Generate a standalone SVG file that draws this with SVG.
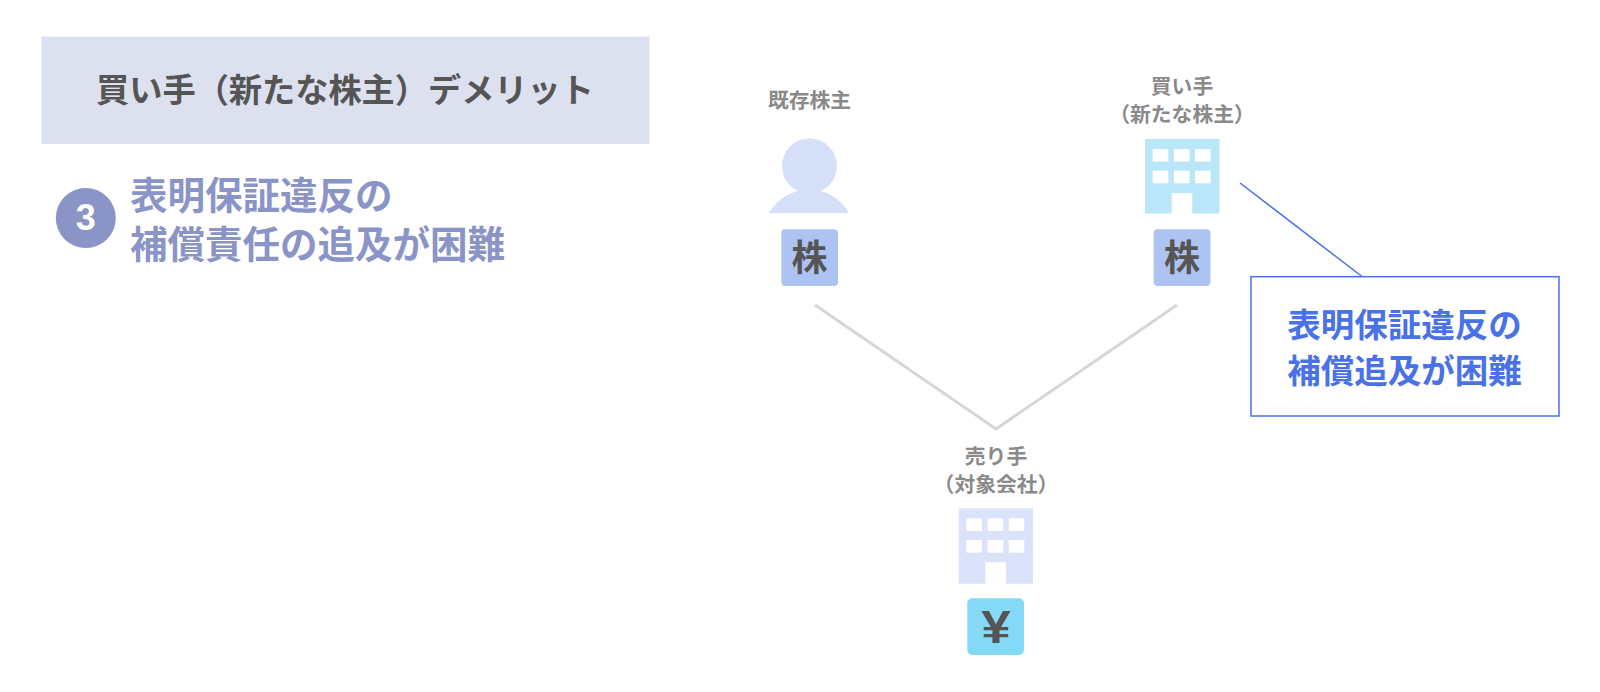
<svg xmlns="http://www.w3.org/2000/svg" width="1600" height="692" viewBox="0 0 1600 692">
<style>
text{font-family:"Noto Sans CJK JP","Noto Sans",sans-serif;font-weight:700;text-anchor:middle}
.lbl{font-size:20.800px;fill:#8a8a8a}
.tok{font-size:36px;fill:#555}
.ttl{font-size:37.500px;fill:#8a94c6;text-anchor:start}
.call{font-size:33.500px;fill:#4a72e8}
.win{fill:#fff}
.stock{fill:#adc3f2}
.conn{fill:none;stroke:#d6d6d6;stroke-width:3}
</style>
<defs>
<g id="bld-holes">
<rect class="win" x="7.7" y="10" width="15.6" height="12.6"/><rect class="win" x="29" y="10" width="15.6" height="12.6"/><rect class="win" x="50" y="10" width="15.6" height="12.6"/>
<rect class="win" x="7.7" y="31.7" width="15.6" height="12.6"/><rect class="win" x="29" y="31.7" width="15.6" height="12.6"/><rect class="win" x="50" y="31.7" width="15.6" height="12.6"/>
<rect class="win" x="26.7" y="54" width="20.6" height="21.5"/>
</g>
</defs>
<rect width="1600" height="692" fill="#fff"/>
<g id="connectors">
<polyline class="conn" points="815,305 996,429 1177,305"/>
<line x1="1240" y1="183" x2="1362" y2="276.5" stroke="#4a72e8" stroke-width="1.5"/>
</g>
<g id="header">
<rect x="41.5" y="36.5" width="608" height="107.5" fill="#dde0ef"/>
<text x="345" y="102" font-size="33.200" fill="#555">買い手（新たな株主）デメリット</text>
</g>
<g id="point-3">
<circle cx="85.800" cy="218" r="30" fill="#8a94c6"/>
<text x="85.800" y="230" font-size="36" fill="#fff" style="font-family:'Liberation Sans',sans-serif">3</text>
<text class="ttl"><tspan x="130" y="209">表明保証違反の</tspan><tspan x="130" y="258">補償責任の追及が困難</tspan></text>
</g>
<g id="existing-shareholder">
<text class="lbl" x="809.500" y="108">既存株主</text>
<circle cx="809.500" cy="166" r="27.500" fill="#d5e0f8"/>
<path d="M769,213 Q782,191 809.500,189 Q836,191 849,213 Z" fill="#d5e0f8"/>
<rect class="stock" x="781.300" y="229.300" width="56.700" height="56.700" rx="4"/>
<text class="tok" x="809.500" y="271">株</text>
</g>
<g id="buyer">
<text class="lbl"><tspan x="1182" y="94">買い手</tspan><tspan x="1182" y="122">（新たな株主）</tspan></text>
<rect x="1145" y="139" width="74.500" height="74.500" fill="#bae6fa"/>
<use href="#bld-holes" x="1145" y="139"/>
<rect class="stock" x="1153.700" y="229.300" width="56.700" height="56.700" rx="4"/>
<text class="tok" x="1182" y="271">株</text>
</g>
<g id="seller">
<text class="lbl"><tspan x="996" y="464">売り手</tspan><tspan x="996" y="492">（対象会社）</tspan></text>
<rect x="958.700" y="508.300" width="74.300" height="75.400" fill="#dae3fa"/>
<use href="#bld-holes" x="958.700" y="508.300"/>
<rect x="967.300" y="598.300" width="56.700" height="56.700" rx="5" fill="#84d9f7"/>
<text x="0" y="643" font-size="46" fill="#555" transform="translate(996 0) scale(1.15 1)" style="font-family:'Liberation Sans',sans-serif">¥</text>
</g>
<g id="callout">
<rect x="1251" y="276.700" width="308" height="139.300" fill="#fff" stroke="#4a72e8" stroke-width="1.500"/>
<text class="call"><tspan x="1404.500" y="337">表明保証違反の</tspan><tspan x="1404.500" y="383">補償追及が困難</tspan></text>
</g>
</svg>
